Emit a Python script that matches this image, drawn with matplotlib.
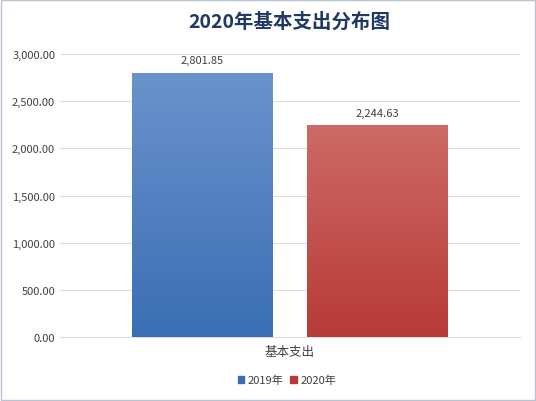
import matplotlib
matplotlib.use("Agg")
import matplotlib.pyplot as plt
import numpy as np
from matplotlib.colors import LinearSegmentedColormap
from matplotlib.ticker import FuncFormatter

plt.rcParams['font.family'] = ['Noto Sans CJK SC', 'DejaVu Sans']

series = ['2019年', '2020年']
values = [2801.85, 2244.63]
category = '基本支出'
top_colors = ['#6a93cc', '#cc6a66']
bot_colors = ['#3b6eb4', '#b83a37']

fig = plt.figure(figsize=(5.36, 4.02), dpi=100)
fig.patches.append(plt.Rectangle((0.002, 0.002), 0.996, 0.996, transform=fig.transFigure,
                                 fill=False, edgecolor='#b8c4d4', linewidth=1))
ax = fig.add_axes([0.112, 0.159, 0.858, 0.704])
ax.set_xlim(-1, 1)
ax.set_ylim(0, 3000)
ax.set_yticks(np.arange(0, 3001, 500))
ax.yaxis.set_major_formatter(FuncFormatter(lambda v, p: f'{v:,.2f}'))
ax.grid(axis='y', color='#d9dfe8', linewidth=0.8)
ax.set_axisbelow(True)
for s in ['top', 'right', 'left']:
    ax.spines[s].set_visible(False)
ax.spines['bottom'].set_color('#d9dfe8')
ax.tick_params(axis='y', length=0, labelsize=8, colors='#404040')
ax.set_xticks([0])
ax.set_xticklabels([category], fontsize=9, color='#404040')
ax.tick_params(axis='x', length=0, pad=6)

pos = [-0.38, 0.38]
w = 0.613
for i, (p, v) in enumerate(zip(pos, values)):
    bar = ax.bar(p, v, width=w, color=bot_colors[i], label=series[i], zorder=2)[0]
    cmap = LinearSegmentedColormap.from_list('g', [bot_colors[i], top_colors[i]])
    grad = np.linspace(0, 1, 256).reshape(-1, 1)
    im = ax.imshow(grad, cmap=cmap, origin='lower', aspect='auto',
                   extent=[p - w/2, p + w/2, 0, v], zorder=3)
    im.set_clip_path(bar)
    ax.text(p, v + 80, f'{v:,.2f}', ha='center', va='bottom', fontsize=8, color='#404040')
ax.set_xlim(-1, 1)
ax.set_ylim(0, 3000)

fig.text(0.54, 0.945, '2020年基本支出分布图', ha='center', va='center',
         fontsize=14, fontweight='bold', color='#1f3864')
h = [plt.Rectangle((0, 0), 1, 1, color=c) for c in bot_colors]
fig.legend(h, series, loc='center', bbox_to_anchor=(0.535, 0.052), ncol=2, frameon=False,
           fontsize=8, handlelength=0.6, handleheight=0.6, columnspacing=0.6, handletextpad=0.3,
           labelcolor='#404040')
fig.savefig('out.png', dpi=100)
